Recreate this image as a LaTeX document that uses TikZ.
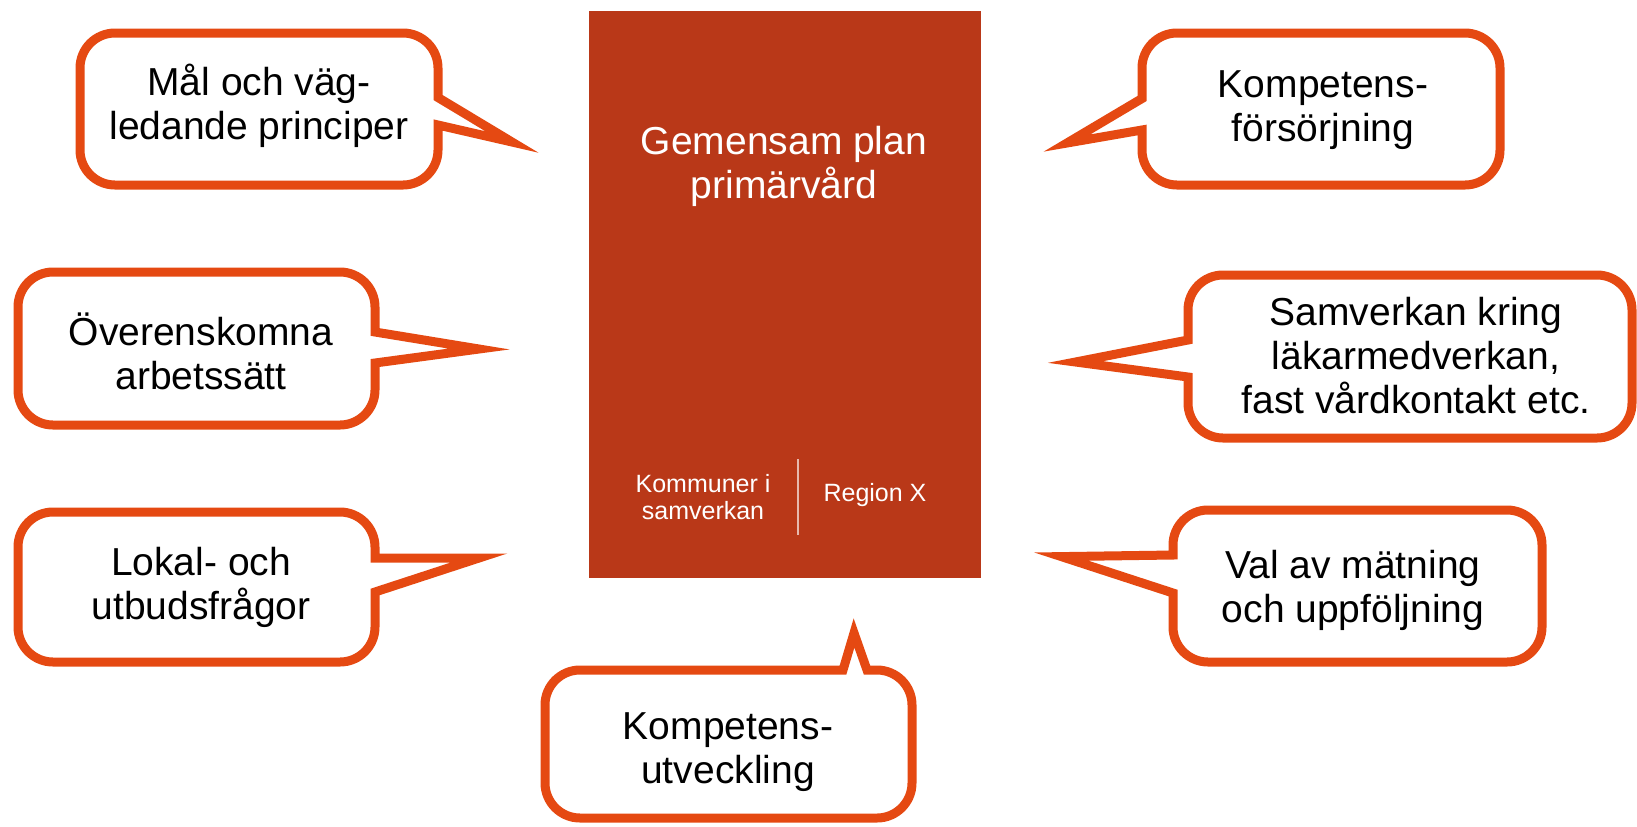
\documentclass[tikz,border=0pt]{standalone}
\usepackage{fontspec}
\setmainfont{Liberation Sans}
\definecolor{planred}{RGB}{185,56,24}
\definecolor{borange}{RGB}{229,73,18}
\begin{document}
\begin{tikzpicture}[x=0.5pt,y=-0.5pt,
  bub/.style={draw=borange,line width=4.5pt,fill=white,line join=miter,miter limit=20},
  txt/.style={align=center,inner sep=0pt,font=\fontsize{19.5}{22}\selectfont},
  wtxt/.style={align=center,inner sep=0pt,text=white,font=\fontsize{19.5}{22}\selectfont},
  stxt/.style={align=center,inner sep=0pt,text=white,font=\fontsize{12.5}{13.5}\selectfont}]
\useasboundingbox (0,0) rectangle (1637,826);
% central plan
\node (plan) [fill=planred,minimum width=196pt,minimum height=283.5pt,inner sep=0pt,anchor=north west] at (589,11) {};
\node (title) [wtxt] at (784,166) {Gemensam plan\\primärvård};
\node (komm) [stxt] at (703,497) {Kommuner i\\samverkan};
\node (reg) [stxt] at (875,495) {Region X};
\coordinate (dtop) at (798,459);
\coordinate (dbot) at (798,535);
\draw[white!65!planred,line width=1pt] (dtop) -- (dbot);
% bubble 1
\draw[bub] (115,33) -- (403,33) arc[start angle=-90,end angle=0,radius=35] -- (438,97.5) -- (512,142) -- (438,125) -- (438,150) arc[start angle=0,end angle=90,radius=35] -- (115,185) arc[start angle=90,end angle=180,radius=35] -- (80,68) arc[start angle=180,end angle=270,radius=35] -- cycle;
\node (b1) [txt] at (259,106) {Mål och väg-\\ledande principer};
% bubble 2
\draw[bub] (53,272) -- (340,272) arc[start angle=-90,end angle=0,radius=35] -- (375,332) -- (479,349) -- (375,363) -- (375,390) arc[start angle=0,end angle=90,radius=35] -- (53,425) arc[start angle=90,end angle=180,radius=35] -- (18,307) arc[start angle=180,end angle=270,radius=35] -- cycle;
\node (b2) [txt] at (201,351) {Överenskomna\\arbetssätt};
% bubble 3
\draw[bub] (53,512) -- (340,512) arc[start angle=-90,end angle=0,radius=35] -- (375,558) -- (479,558) -- (375,592) -- (375,627) arc[start angle=0,end angle=90,radius=35] -- (53,662) arc[start angle=90,end angle=180,radius=35] -- (18,547) arc[start angle=180,end angle=270,radius=35] -- cycle;
\node (b3) [txt] at (201,587) {Lokal- och\\utbudsfrågor};
% bubble 4
\draw[bub] (580,670) -- (843,670) -- (854,633) -- (867,670) -- (877,670) arc[start angle=-90,end angle=0,radius=35] -- (912,783) arc[start angle=0,end angle=90,radius=35] -- (580,818) arc[start angle=90,end angle=180,radius=35] -- (545,705) arc[start angle=180,end angle=270,radius=35] -- cycle;
\node (b4) [txt] at (728,752) {Kompetens-\\utveckling};
% bubble 5
\draw[bub] (1177,33) -- (1465,33) arc[start angle=-90,end angle=0,radius=35] -- (1500,150) arc[start angle=0,end angle=90,radius=35] -- (1177,185) arc[start angle=90,end angle=180,radius=35] -- (1142,130) -- (1067,143) -- (1142,98.5) -- (1142,68) arc[start angle=180,end angle=270,radius=35] -- cycle;
\node (b5) [txt] at (1323,110) {Kompetens-\\försörjning};
% bubble 6
\draw[bub] (1223,275) -- (1597,275) arc[start angle=-90,end angle=0,radius=35] -- (1632,403) arc[start angle=0,end angle=90,radius=35] -- (1223,438) arc[start angle=90,end angle=180,radius=35] -- (1188,377) -- (1075.5,362) -- (1188,340) -- (1188,310) arc[start angle=180,end angle=270,radius=35] -- cycle;
\node (b6) [txt] at (1416,356) {Samverkan kring\\läkarmedverkan,\\fast vårdkontakt etc.};
% bubble 7
\draw[bub] (1208,510) -- (1507,510) arc[start angle=-90,end angle=0,radius=35] -- (1542,627) arc[start angle=0,end angle=90,radius=35] -- (1208,662) arc[start angle=90,end angle=180,radius=35] -- (1173,593) -- (1061.4,556.6) -- (1173,555) -- (1173,545) arc[start angle=180,end angle=270,radius=35] -- cycle;
\node (b7) [txt] at (1353,590) {Val av mätning\\och uppföljning};
\end{tikzpicture}
\end{document}
